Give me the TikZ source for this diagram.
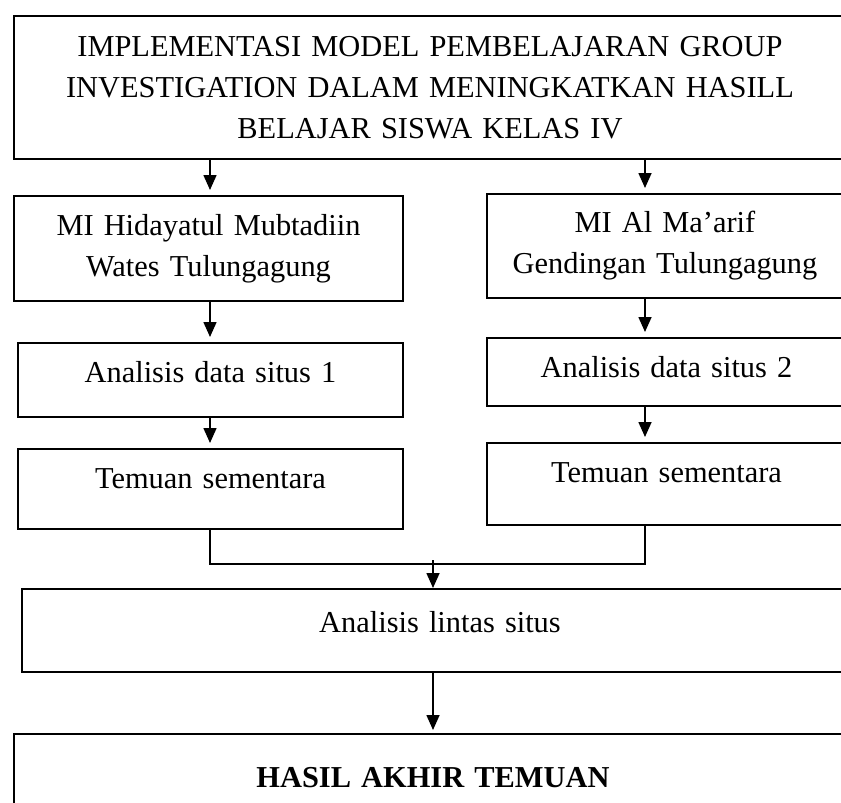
\documentclass[tikz,border=0pt]{standalone}
\usepackage{fontspec}
\setmainfont[WordSpace=0.85]{Liberation Serif}
\usetikzlibrary{
  arrows.meta % for the Triangle tips
}

\begin{document}
\begin{tikzpicture}[
  x=0.5pt,y=-0.5pt,
  line width=1pt,
  font=\fontsize{15.2}{20.5}\selectfont,
  box/.style={
     rectangle,
     draw,
     inner sep=0pt,
     anchor=north west,
     align=center
  },
  arr/.style={line width=.8pt,shorten >=2.5pt,-{Triangle[length=7.5pt,width=6.5pt]}},
  link/.style={line width=.8pt}
]
   % page size, the boxes run off the right edge
   \useasboundingbox (0,0) rectangle (841,803);
   \clip (0,0) rectangle (841,803);

   % The boxes
   \node[box,text width=416pt,minimum height=71.5pt] (title) at (13,15)
      {IMPLEMENTASI MODEL PEMBELAJARAN GROUP\\
       INVESTIGATION DALAM MENINGKATKAN HASILL\\
       BELAJAR SISWA KELAS IV};
   \node[box,text width=194.5pt,minimum height=52.5pt] (mi1) at (13,195)
      {MI Hidayatul Mubtadiin\\Wates Tulungagung};
   \node[box,text width=178pt,minimum height=52pt] (mi2) at (486,193)
      {MI Al Ma’arif\\Gendingan Tulungagung};
   \node[box,text width=192.5pt,text height=19.5pt,text depth=17.5pt] (an1) at (17,342) {Analisis data situs 1};
   \node[box,text width=179.5pt,text height=19.5pt,text depth=14.5pt] (an2) at (486,337) {Analisis data situs 2};
   \node[box,text width=192.5pt,text height=19.5pt,text depth=20.5pt] (tm1) at (17,448) {Temuan sementara};
   \node[box,text width=179.5pt,text height=19.5pt,text depth=21.5pt] (tm2) at (486,442) {Temuan sementara};
   \node[box,text width=418pt,text height=21.5pt,text depth=20pt] (lintas) at (21,588) {Analisis lintas situs};
   \node[box,text width=419pt,text height=26.5pt,text depth=30pt,font=\fontsize{15.2}{20.5}\selectfont\bfseries] (hasil) at (13,733) {HASIL AKHIR TEMUAN};

   % x of the two columns and the meeting point
   \coordinate (colL) at (210,0);
   \coordinate (colR) at (645,0);
   \coordinate (join) at (433,564);

   % The connecting arrows
   \draw[arr] (title.south -| colL) -- (mi1.north -| colL);
   \draw[arr] (title.south -| colR) -- (mi2.north -| colR);
   \draw[arr] (mi1.south -| colL) -- (an1.north -| colL);
   \draw[arr] (mi2.south -| colR) -- (an2.north -| colR);
   \draw[arr] (an1.south -| colL) -- (tm1.north -| colL);
   \draw[arr] (an2.south -| colR) -- (tm2.north -| colR);
   \draw[link] (tm1.south -| colL) |- (join) -| (tm2.south -| colR);
   \draw[arr,shorten >=0pt] ([yshift=2pt]join) -- (lintas.north -| join);
   \draw[arr,shorten >=1.5pt] (lintas.south -| join) -- (hasil.north -| join);
\end{tikzpicture}
\end{document}
